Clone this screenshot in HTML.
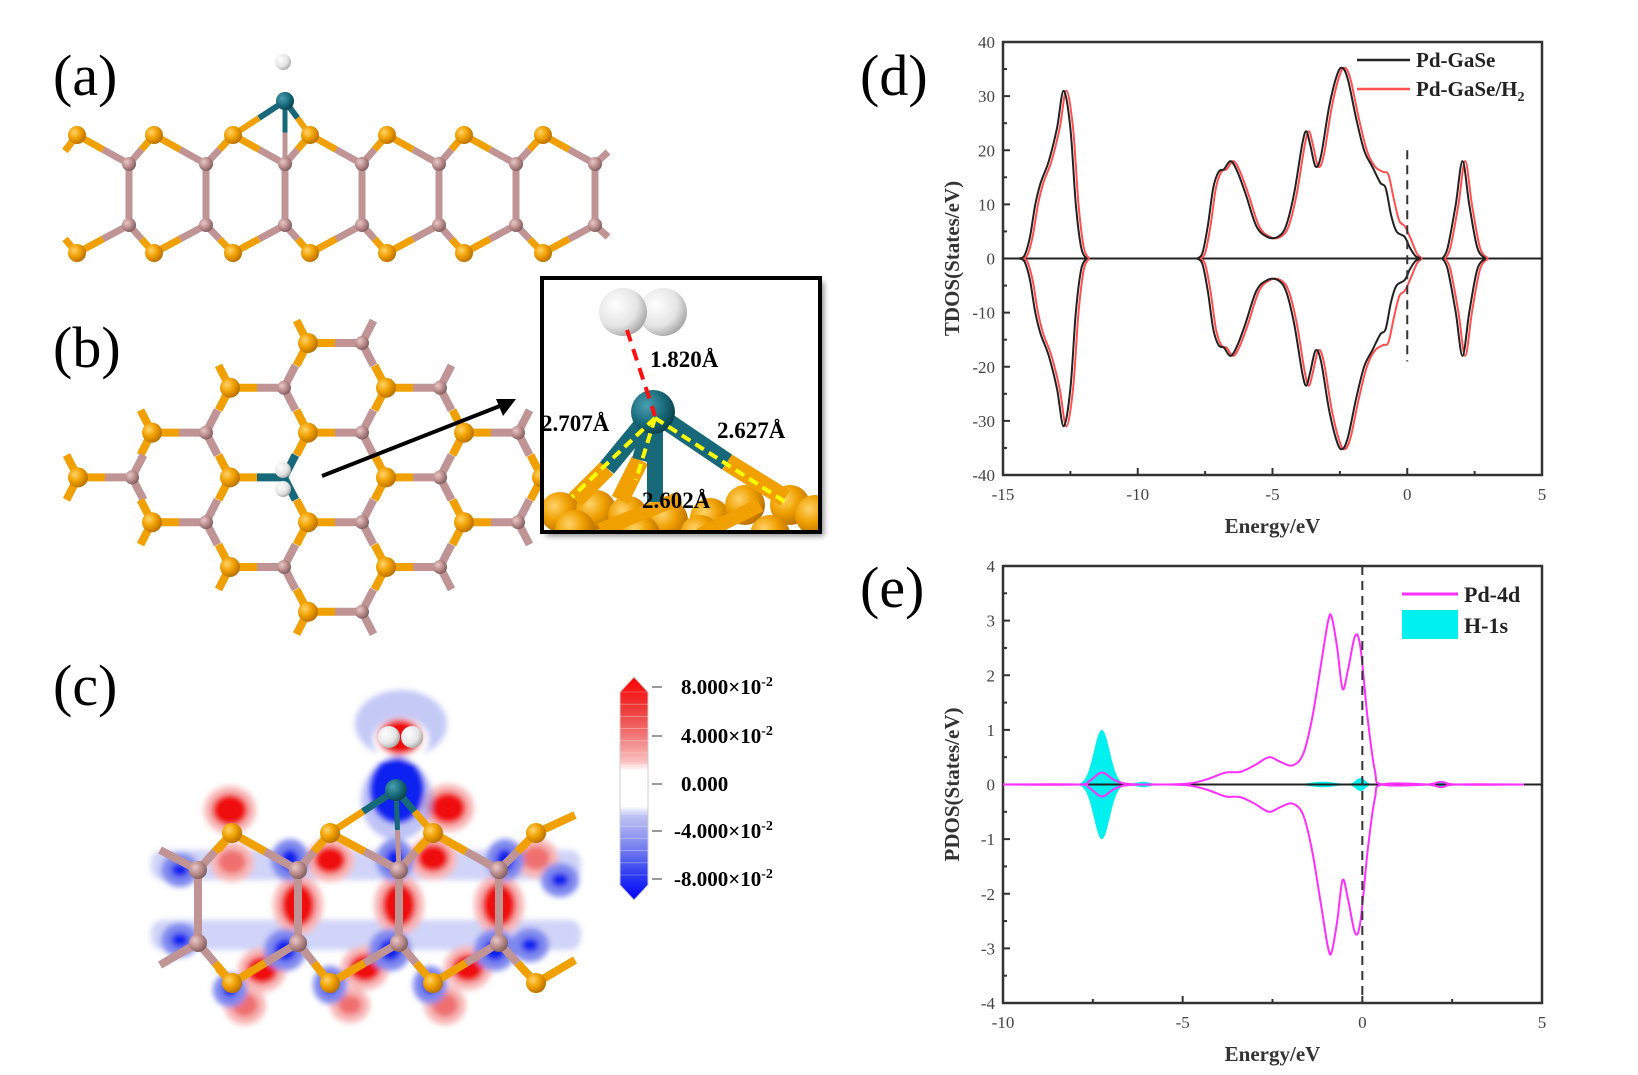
<!DOCTYPE html>
<html><head><meta charset="utf-8">
<style>
html,body{margin:0;padding:0;background:#fff;}
svg{display:block;}
text{font-family:"Liberation Serif",serif;}
</style></head>
<body>
<svg id="s" width="1638" height="1075" viewBox="0 0 1638 1075" xmlns="http://www.w3.org/2000/svg">
<defs>
<radialGradient id="go" cx="0.35" cy="0.35" r="0.7"><stop offset="0" stop-color="#ffd36a"/><stop offset="0.5" stop-color="#f0a000"/><stop offset="1" stop-color="#b86e00"/></radialGradient>
<radialGradient id="gp" cx="0.35" cy="0.35" r="0.7"><stop offset="0" stop-color="#e8c8c8"/><stop offset="0.5" stop-color="#bf9090"/><stop offset="1" stop-color="#7e5c5c"/></radialGradient>
<radialGradient id="gt" cx="0.35" cy="0.35" r="0.7"><stop offset="0" stop-color="#4aa0b0"/><stop offset="0.6" stop-color="#17697a"/><stop offset="1" stop-color="#0b3f4a"/></radialGradient>
<radialGradient id="gw" cx="0.35" cy="0.35" r="0.75"><stop offset="0" stop-color="#ffffff"/><stop offset="0.6" stop-color="#e4e4e4"/><stop offset="1" stop-color="#9a9a9a"/></radialGradient>
<linearGradient id="cb" x1="0" y1="0" x2="0" y2="1">
<stop offset="0" stop-color="#ff0000"/><stop offset="0.12" stop-color="#f03030"/><stop offset="0.25" stop-color="#f07070"/><stop offset="0.38" stop-color="#fbc0c0"/><stop offset="0.42" stop-color="#ffffff"/><stop offset="0.58" stop-color="#ffffff"/><stop offset="0.62" stop-color="#c0c4f4"/><stop offset="0.75" stop-color="#8088f0"/><stop offset="0.88" stop-color="#3040f0"/><stop offset="1" stop-color="#0000ff"/></linearGradient>
<filter id="sh" x="-10%" y="-10%" width="130%" height="130%"><feDropShadow dx="4" dy="4" stdDeviation="3" flood-color="#000" flood-opacity="0.45"/></filter>
<filter id="bl"><feGaussianBlur stdDeviation="3"/></filter>
</defs>

<text x="53" y="95" font-size="58">(a)</text>
<text x="53" y="367" font-size="58">(b)</text>
<text x="53" y="705" font-size="58">(c)</text>
<text x="860" y="95" font-size="58">(d)</text>
<text x="860" y="607" font-size="58">(e)</text>

<g id="a"></g>
<g id="b"></g>
<g id="c"></g>
<g id="d"></g>
<g id="e"></g>
</svg>
<script>
const NS="http://www.w3.org/2000/svg";
function el(p,tag,attrs,txt){const e=document.createElementNS(NS,tag);for(const k in attrs)e.setAttribute(k,attrs[k]);if(txt!==undefined)e.textContent=txt;p.appendChild(e);return e;}
const OR="#f0a000",PK="#c09494",TL="#17697a";
function bond(g,x1,y1,c1,x2,y2,c2,w){const mx=(x1+x2)/2,my=(y1+y2)/2;
 el(g,"line",{x1:x1,y1:y1,x2:mx,y2:my,stroke:c1,"stroke-width":w||7,"stroke-linecap":"butt"});
 el(g,"line",{x1:mx,y1:my,x2:x2,y2:y2,stroke:c2,"stroke-width":w||7,"stroke-linecap":"butt"});}
function atom(g,x,y,t,r){const f={O:"url(#go)",P:"url(#gp)",T:"url(#gt)",W:"url(#gw)"}[t];el(g,"circle",{cx:x,cy:y,r:r,fill:f});}

(function(){const g=document.getElementById("a");
 const gx=[129,206,285,362,439,516,595],yu=164,yl=225,su=135,sl=253;
 const atoms=[];
 for(let i=0;i<gx.length;i++){
  bond(g,gx[i],yu,PK,gx[i],yl,PK,7);
  const sx=gx[i]-52;
  if(i==0){bond(g,sx,su,OR,sx-12,su+16,OR,7);} else {bond(g,sx,su,OR,gx[i-1],yu,PK,7);}
  bond(g,sx,su,OR,gx[i],yu,PK,7);
  if(i==0){bond(g,sx,sl,OR,sx-12,sl-14,OR,7);} else {bond(g,sx,sl,OR,gx[i-1],yl,PK,7);}
  bond(g,sx,sl,OR,gx[i],yl,PK,7);
  atoms.push([sx,su,"O",9],[sx,sl,"O",9],[gx[i],yu,"P",7],[gx[i],yl,"P",7]);
 }
 bond(g,595,yu,PK,608,yu-12,PK,7);bond(g,595,yl,PK,608,yl+12,PK,7);
 bond(g,285,101,TL,233,135,OR,6);bond(g,285,101,TL,310,135,OR,6);bond(g,285,101,TL,285,164,PK,5);
 atoms.forEach(a=>atom(g,...a));
 atom(g,285,101,"T",9);atom(g,283,62,"W",8);
})();

(function(){const g=document.getElementById("b");
 const dy=44.8,y0=343;
 const set={};
 function key(t,x,r){return t+Math.round(x)+"_"+r;}
 const list=[];
 const baseRows={0:[308],1:[230,386],2:[152,308,464],3:[78,230,386,542],4:[152,308,464],5:[230,386],6:[308]};
 for(const r in baseRows){const rr=+r;
  baseRows[rr].forEach(x=>{list.push(["O",x,rr]);list.push(["P",x+54,rr]);});
 }
 list.forEach(a=>set[key(a[0],a[1],a[2])]=a);
 function has(t,x,r){for(const d of [-3,-2,-1,0,1,2,3]){if(set[key(t,x+d,r)])return true;}return false;}
 const pd=[284,3];
 list.forEach(a=>{const [t,x,r]=a;const y=y0+dy*r;
  const isPd=(t=="P"&&Math.abs(x-pd[0])<3&&r==pd[1]);
  const c=isPd?TL:(t=="O"?OR:PK);
  let nb;
  if(t=="O")nb=[["P",x+54,r],["P",x-23,r-1],["P",x-23,r+1]];
  else nb=[["O",x-54,r],["O",x+23,r-1],["O",x+23,r+1]];
  nb.forEach(n=>{const ny=y0+dy*n[2];
    const mx=(x+n[1])/2,my=(y+ny)/2;el(g,"line",{x1:x,y1:y,x2:mx,y2:my,stroke:c,"stroke-width":8});
  });
 });
 list.forEach(a=>{const [t,x,r]=a;const y=y0+dy*r;
  if(t=="P"&&Math.abs(x-pd[0])<3&&r==pd[1])return;
  atom(g,x,y,t,t=="O"?10:7);});
 atom(g,283,470,"W",8);atom(g,283,489,"W",8);
 el(g,"line",{x1:322,y1:476,x2:505,y2:404,stroke:"#000","stroke-width":4});
 el(g,"polygon",{points:"516,399 496,399 503,416",fill:"#000"});
 const ig=el(g,"g",{});
 el(ig,"rect",{x:542,y:278,width:278,height:254,fill:"#fff",filter:"url(#sh)"});
 const clip=el(document.querySelector("defs"),"clipPath",{id:"ic"});el(clip,"rect",{x:544,y:280,width:274,height:250});
 const c=el(ig,"g",{"clip-path":"url(#ic)"});
 [[560,512],[596,510],[628,516],[668,520],[710,518],[745,505],[790,505],[815,515],[575,530],[640,535],[700,535],[770,535]].forEach(p=>{atom(c,p[0],p[1],"O",20);});
 el(c,"line",{x1:575,y1:500,x2:607,y2:468,stroke:OR,"stroke-width":18});
 el(c,"line",{x1:620,y1:500,x2:640,y2:460,stroke:OR,"stroke-width":18});
 el(c,"line",{x1:727,y1:462,x2:785,y2:498,stroke:OR,"stroke-width":18});
 el(c,"line",{x1:600,y1:530,x2:680,y2:498,stroke:OR,"stroke-width":14});
 el(c,"line",{x1:700,y1:535,x2:760,y2:505,stroke:OR,"stroke-width":14});
 el(c,"line",{x1:653,y1:412,x2:607,y2:468,stroke:TL,"stroke-width":18});
 el(c,"line",{x1:653,y1:412,x2:640,y2:460,stroke:TL,"stroke-width":16});
 el(c,"line",{x1:653,y1:412,x2:727,y2:462,stroke:TL,"stroke-width":18});
 el(c,"line",{x1:655,y1:412,x2:655,y2:502,stroke:TL,"stroke-width":16});
 atom(c,653,412,"T",22);
 const yd={stroke:"#ffff00","stroke-width":4,"stroke-dasharray":"10,6",fill:"none"};
 el(c,"line",Object.assign({x1:655,y1:418,x2:572,y2:497},yd));
 el(c,"line",Object.assign({x1:655,y1:418,x2:636,y2:480},yd));
 el(c,"line",Object.assign({x1:655,y1:418,x2:790,y2:505},yd));
 atom(c,663,312,"W",24);atom(c,623,312,"W",24);
 el(c,"line",{x1:627,y1:330,x2:655,y2:416,stroke:"#ff1010","stroke-width":4,"stroke-dasharray":"12,8"});
 el(ig,"rect",{x:542,y:278,width:278,height:254,fill:"none",stroke:"#000","stroke-width":4});
 const lt={"font-size":23,"font-weight":"bold"};
 el(ig,"text",Object.assign({x:650,y:367},lt),"1.820Å");
 el(ig,"text",Object.assign({x:541,y:431},lt),"2.707Å");
 el(ig,"text",Object.assign({x:717,y:438},lt),"2.627Å");
 el(ig,"text",Object.assign({x:642,y:508},lt),"2.602Å");
})();

(function(){const g=document.getElementById("c");
 const bg=el(g,"g",{filter:"url(#bl)"});
 const LB="#c4c9f6",MB="#7f88ee",DB="#1020f0",LR="#f8b8b8",MR="#f07070",DR="#f01010";
 [[151,850,430,30],[151,920,430,30]].forEach(b=>el(bg,"rect",{x:b[0],y:b[1],width:b[2],height:b[3],fill:LB,opacity:0.8,rx:12}));
 [[230,810,18,16],[448,808,18,16],[330,860,16,14],[433,858,16,14],[536,858,14,12],[298,905,17,22],[399,905,17,22],[499,905,17,22],
  [262,970,16,14],[365,968,16,14],[468,968,16,14],[245,1005,13,12],[445,1005,13,12],[350,1005,12,10],[232,862,14,12]].forEach(b=>{el(bg,"ellipse",{cx:b[0],cy:b[1],rx:b[2]+8,ry:b[3]+8,fill:LR});el(bg,"ellipse",{cx:b[0],cy:b[1],rx:b[2],ry:b[3],fill:b[2]>=16?DR:MR});});
 [[290,860,12,14],[395,860,12,14],[505,860,12,14],[285,950,14,14],[390,950,14,14],[495,950,14,14],[180,870,12,10],[180,940,12,10],[560,880,12,10],[530,945,12,10],[330,985,10,12],[430,985,10,12],[230,990,10,10]].forEach(b=>{el(bg,"ellipse",{cx:b[0],cy:b[1],rx:b[2]+7,ry:b[3]+7,fill:MB});el(bg,"ellipse",{cx:b[0],cy:b[1],rx:b[2]-3,ry:b[3]-3,fill:DB});});
 el(bg,"ellipse",{cx:401,cy:724,rx:46,ry:34,fill:LB});
 el(bg,"ellipse",{cx:401,cy:740,rx:28,ry:22,fill:"#fff"});
 el(bg,"ellipse",{cx:400,cy:737,rx:22,ry:18,fill:DR});
 el(bg,"ellipse",{cx:397,cy:800,rx:36,ry:40,fill:MB,opacity:0.5});
 el(bg,"ellipse",{cx:397,cy:790,rx:27,ry:33,fill:DB});
 const gx=[198,298,399,499],yu=870,yl=943,su=833,sl=983,sx=[232,330,433,536];
 for(let i=0;i<4;i++){bond(g,gx[i],yu,PK,gx[i],yl,PK,8);}
 bond(g,198,yu,PK,160,850,PK,8);bond(g,198,yl,PK,160,965,PK,8);
 for(let i=0;i<4;i++){
  bond(g,sx[i],su,OR,gx[i],yu,PK,8); if(i<3)bond(g,sx[i],su,OR,gx[i+1],yu,PK,8); else bond(g,sx[i],su,OR,575,815,OR,8);
  bond(g,sx[i],sl,OR,gx[i],yl,PK,8); if(i<3)bond(g,sx[i],sl,OR,gx[i+1],yl,PK,8); else bond(g,sx[i],sl,OR,575,960,OR,8);
 }
 bond(g,232,su,OR,218,850,OR,8);bond(g,232,sl,OR,218,968,OR,8);
 bond(g,396,790,TL,330,833,OR,7);bond(g,396,790,TL,433,833,OR,7);bond(g,396,790,TL,399,870,PK,5);
 sx.forEach(x=>{atom(g,x,su,"O",10);atom(g,x,sl,"O",10);});
 gx.forEach(x=>{atom(g,x,yu,"P",9);atom(g,x,yl,"P",9);});
 atom(g,396,790,"T",11);atom(g,389,737,"W",11);atom(g,412,737,"W",11);
 el(g,"path",{d:"M634,677 L648,692 L648,885 L634,900 L620,885 L620,692 Z",fill:"url(#cb)",stroke:"#ccc","stroke-width":1});
 for(let k=0;k<16;k++){el(g,"line",{x1:620,x2:648,y1:692+k*12.2,y2:692+k*12.2,stroke:"#fff","stroke-width":0.6,opacity:0.5});}
 const labs=[["8.000×10",694],["4.000×10",743],["0.000",791],["-4.000×10",838],["-8.000×10",886]];
 labs.forEach(l=>{el(g,"line",{x1:652,x2:662,y1:l[1]-7,y2:l[1]-7,stroke:"#999","stroke-width":2});
  const t=el(g,"text",{x:l[0][0]=="-"?674:681,y:l[1],"font-size":21,"font-weight":"bold"},l[0]);
  if(l[0]!="0.000"){el(t,"tspan",{dy:-8,"font-size":14},"-2");}});
})();

function smooth(pts){let d="M"+pts[0][0].toFixed(1)+","+pts[0][1].toFixed(1);
 for(let i=0;i<pts.length-1;i++){const p0=pts[Math.max(0,i-1)],p1=pts[i],p2=pts[i+1],p3=pts[Math.min(pts.length-1,i+2)];
  const c1=[p1[0]+(p2[0]-p0[0])/6,p1[1]+(p2[1]-p0[1])/6],c2=[p2[0]-(p3[0]-p1[0])/6,p2[1]-(p3[1]-p1[1])/6];
  d+=" C"+c1.map(v=>v.toFixed(1))+" "+c2.map(v=>v.toFixed(1))+" "+p2[0].toFixed(1)+","+p2[1].toFixed(1);}
 return d;}
function axes(g,X0,X1,Y0,Y1,xmin,xmax,ymin,ymax,xmaj,xmin2,ymaj,ymin2,ylab){
 const fx=v=>X0+(v-xmin)/(xmax-xmin)*(X1-X0),fy=v=>Y1-(v-ymin)/(ymax-ymin)*(Y1-Y0);
 el(g,"rect",{x:X0,y:Y0,width:X1-X0,height:Y1-Y0,fill:"none",stroke:"#333","stroke-width":2.5});
 for(let v=xmin;v<=xmax+1e-6;v+=xmin2){const maj=Math.abs(Math.round(v/xmaj)*xmaj-v)<1e-6;
  el(g,"line",{x1:fx(v),x2:fx(v),y1:Y1,y2:Y1-(maj?7:4),stroke:"#333","stroke-width":2});
  if(maj)el(g,"text",{x:fx(v),y:Y1+25,"font-size":17,"text-anchor":"middle",fill:"#444"},String(v));}
 for(let v=ymin;v<=ymax+1e-6;v+=ymin2){const maj=Math.abs(Math.round(v/ymaj)*ymaj-v)<1e-6;
  el(g,"line",{x1:X0,x2:X0+(maj?7:4),y1:fy(v),y2:fy(v),stroke:"#333","stroke-width":2});
  if(maj)el(g,"text",{x:X0-8,y:fy(v)+6,"font-size":17,"text-anchor":"end",fill:"#444"},String(v));}
 el(g,"text",{x:(X0+X1)/2,y:Y1+58,"font-size":21,"font-weight":"bold","text-anchor":"middle",fill:"#333"},"Energy/eV");
 el(g,"text",{x:0,y:0,"font-size":21,"font-weight":"bold","text-anchor":"middle",fill:"#333",transform:`translate(${X0-44},${(Y0+Y1)/2}) rotate(-90)`},ylab);
 return [fx,fy];}

(function(){const g=document.getElementById("d");
 const [fx,fy]=axes(g,1003,1542,42,475,-15,5,-40,40,5,2.5,10,5,"TDOS(States/eV)");
 const b1=[[-14.4,0],[-14.2,0.6],[-14.0,4],[-13.8,10],[-13.6,14],[-13.3,18],[-13.0,24],[-12.75,31],[-12.5,24],[-12.3,10],[-12.1,2],[-11.9,0]];
 const b3=[[1.3,0],[1.5,2],[1.8,10],[2.05,18],[2.3,10],[2.6,2],[2.9,0]];
 const head=[[-7.8,0],[-7.6,1],[-7.4,6],[-7.2,13],[-7.0,16],[-6.8,16.5],[-6.55,18],[-6.3,16],[-6.0,12],[-5.6,6],[-5.2,4],[-4.8,4],[-4.5,6],[-4.2,12],[-3.9,21],[-3.75,23.5],[-3.6,21],[-3.4,17],[-3.2,19],[-2.9,28],[-2.6,34],[-2.4,35.2],[-2.2,33],[-1.9,26],[-1.6,20],[-1.3,17]];
 const blk=head.concat([[-1.0,14],[-0.8,13],[-0.6,8],[-0.4,5],[-0.1,4],[0.1,2],[0.3,0.5],[0.5,0]]);
 const red=head.concat([[-1.0,16],[-0.8,15.5],[-0.6,11],[-0.4,7],[-0.2,6],[0.0,4],[0.25,1],[0.45,0]]);
 el(g,"line",{x1:1003,x2:1542,y1:fy(0),y2:fy(0),stroke:"#222","stroke-width":2});
 function draw(bands,shift,color){bands.forEach(b=>{const pts=b.map(p=>[p[0]+shift,p[1]]);
  el(g,"path",{d:smooth(pts.map(p=>[fx(p[0]),fy(p[1])])),fill:"none",stroke:color,"stroke-width":2});
  el(g,"path",{d:smooth(pts.map(p=>[fx(p[0]),fy(-p[1])])),fill:"none",stroke:color,"stroke-width":2});});}
 draw([b1,red,b3],0.1,"#ff5050");
 draw([b1,blk,b3],0,"#222");
 el(g,"line",{x1:fx(0),x2:fx(0),y1:fy(20),y2:fy(-19),stroke:"#333","stroke-width":2,"stroke-dasharray":"9,6"});
 el(g,"line",{x1:1357,x2:1410,y1:60,y2:60,stroke:"#222","stroke-width":2.5});
 el(g,"line",{x1:1357,x2:1410,y1:89,y2:89,stroke:"#ff5050","stroke-width":2.5});
 el(g,"text",{x:1416,y:67,"font-size":21,"font-weight":"bold",fill:"#222"},"Pd-GaSe");
 const t=el(g,"text",{x:1416,y:96,"font-size":21,"font-weight":"bold",fill:"#222"},"Pd-GaSe/H");
 el(t,"tspan",{dy:5,"font-size":14},"2");
})();

(function(){const g=document.getElementById("e");
 const [fx,fy]=axes(g,1003,1542,566,1003,-10,5,-4,4,5,2.5,1,0.5,"PDOS(States/eV)");
 function h(E){const G=(a,m,s)=>a*Math.exp(-0.5*((E-m)/s)**2);return G(1.0,-7.25,0.22)+G(0.05,-6.1,0.2)+G(0.05,-1.1,0.35)+G(0.12,-0.05,0.13)+G(0.05,2.2,0.15);}
 let up=[],dn=[];for(let E=-8.5;E<=3;E+=0.02){up.push(fx(E).toFixed(1)+","+fy(h(E)).toFixed(1));dn.push(fx(E).toFixed(1)+","+fy(-h(E)).toFixed(1));}
 el(g,"polygon",{points:up.concat(dn.reverse()).join(" "),fill:"#00f0f0"});
 el(g,"line",{x1:1003,x2:1542,y1:fy(0),y2:fy(0),stroke:"#222","stroke-width":2});
 const pd=[[-10,0],[-7.9,0],[-7.6,0.06],[-7.25,0.22],[-6.9,0.08],[-6.5,0.01],[-5.5,0],[-4.8,0.02],[-4.3,0.1],[-3.8,0.22],[-3.4,0.23],[-3.0,0.35],[-2.6,0.5],[-2.3,0.42],[-1.95,0.35],[-1.65,0.55],[-1.4,1.2],[-1.15,2.2],[-0.95,3.0],[-0.85,3.06],[-0.7,2.5],[-0.55,1.75],[-0.4,2.1],[-0.2,2.72],[-0.05,2.5],[0.15,1.2],[0.35,0.25],[0.55,0],[1.8,0],[2.2,0.05],[2.6,0],[4.5,0]];
 el(g,"path",{d:smooth(pd.map(p=>[fx(p[0]),fy(p[1])])),fill:"none",stroke:"#ff30ff","stroke-width":2});
 el(g,"path",{d:smooth(pd.map(p=>[fx(p[0]),fy(-p[1])])),fill:"none",stroke:"#ff30ff","stroke-width":2});
 el(g,"line",{x1:fx(0),x2:fx(0),y1:566,y2:1003,stroke:"#333","stroke-width":2,"stroke-dasharray":"9,6"});
 el(g,"line",{x1:1402,x2:1458,y1:594,y2:594,stroke:"#ff30ff","stroke-width":3});
 el(g,"rect",{x:1402,y:610,width:56,height:29,fill:"#00f0f0"});
 el(g,"text",{x:1464,y:602,"font-size":22,"font-weight":"bold",fill:"#222"},"Pd-4d");
 el(g,"text",{x:1464,y:633,"font-size":22,"font-weight":"bold",fill:"#222"},"H-1s");
})();
</script>
</body></html>
